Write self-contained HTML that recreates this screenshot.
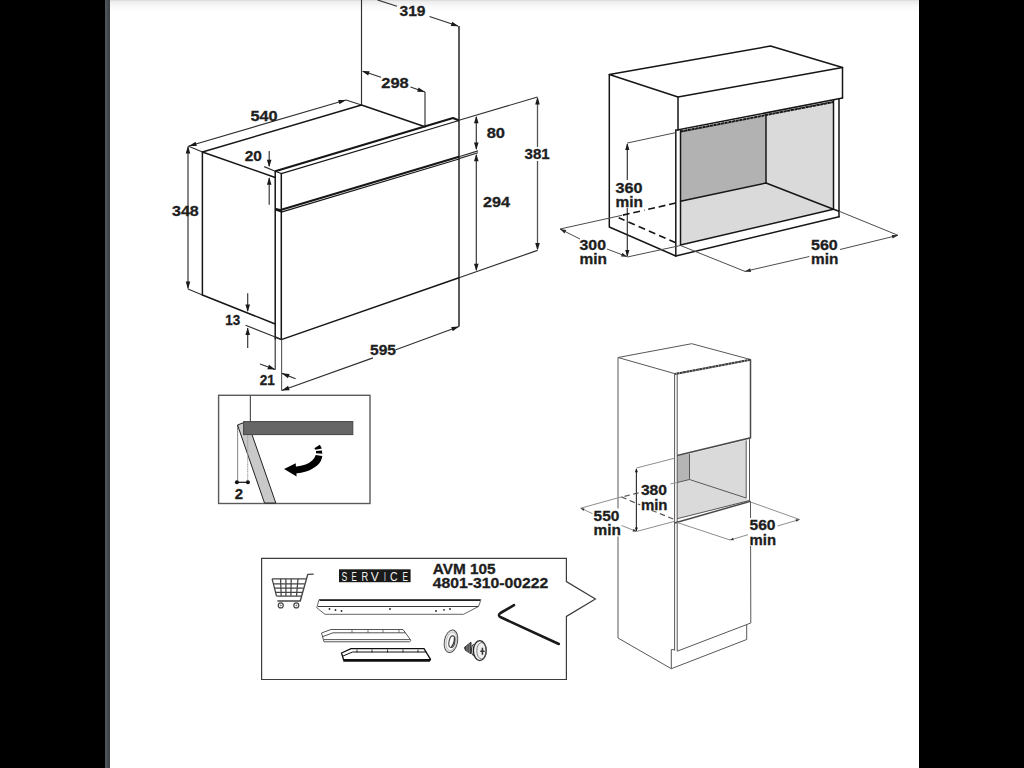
<!DOCTYPE html>
<html><head><meta charset="utf-8"><title>Installation dimensions</title>
<style>
html,body{margin:0;padding:0;background:#fff;overflow:hidden}
body{width:1024px;height:768px;font-family:"Liberation Sans",sans-serif}
svg{display:block;position:absolute;left:0;top:0}
.o{fill:none;stroke:#161616;stroke-width:1.5;stroke-linejoin:round;stroke-linecap:round}
.o1{fill:none;stroke:#161616;stroke-width:1.1;stroke-linejoin:round}
.o2{fill:none;stroke:#161616;stroke-width:1.4}
.o3{fill:none;stroke:#161616;stroke-width:2;stroke-linejoin:round}
.d{fill:none;stroke:#303030;stroke-width:1.15}
.e{fill:none;stroke:#4c4c4c;stroke-width:1}
.e2{fill:none;stroke:#555;stroke-width:1.3}
.d2{fill:none;stroke:#555;stroke-width:1.1}
.d3{fill:none;stroke:#141414;stroke-width:1.6}
.g{fill:none;stroke:#585858;stroke-width:1}
.g2{fill:none;stroke:#4a4a4a;stroke-width:1.5}
.g6{fill:none;stroke:#555;stroke-width:1.25}
.g5{fill:none;stroke:#3a3a3a;stroke-width:2}
.g3{fill:none;stroke:#8e8e8e;stroke-width:1}
.g4{fill:none;stroke:#555;stroke-width:1.2}
.sb{fill:#fff;stroke:#3c3c3c;stroke-width:1.2}
.t{font-family:"Liberation Sans",sans-serif;font-weight:bold;fill:#1e1e1e;stroke:#1e1e1e;stroke-width:0.3}
</style></head>
<body>
<svg width="1024" height="768" viewBox="0 0 1024 768">
<defs>
<linearGradient id="barg" x1="0" x2="1" y1="0" y2="0"><stop offset="0" stop-color="#52585c"/><stop offset="1" stop-color="#3b3f42"/></linearGradient>
<linearGradient id="topg" x1="0" x2="0" y1="0" y2="1"><stop offset="0" stop-color="#d6d6d6"/><stop offset="0.1" stop-color="#ebebeb"/><stop offset="0.5" stop-color="#f8f8f8"/><stop offset="1" stop-color="#ffffff"/></linearGradient>
</defs>
<rect x="0" y="0" width="105" height="768" fill="#000"/>
<rect x="105" y="0" width="5" height="768" fill="url(#barg)"/>
<rect x="919" y="0" width="105" height="768" fill="#000"/>
<rect x="110" y="0" width="809" height="12" fill="url(#topg)"/>
<line class="d" x1="361.50" y1="0.00" x2="361.50" y2="105.00"/>
<line class="o2" x1="459.00" y1="26.00" x2="459.00" y2="326.50"/>
<line class="d" x1="425.00" y1="92.00" x2="425.00" y2="126.50"/>
<line class="d" x1="377.50" y1="0.00" x2="397.00" y2="6.30"/>
<line class="d" x1="429.50" y1="16.50" x2="458.00" y2="26.00"/>
<polygon fill="#1a1a1a" points="458.60,26.20 450.76,25.99 452.22,21.63"/>
<text class="t" x="399.50" y="16.40" font-size="14.5" textLength="26.00" lengthAdjust="spacingAndGlyphs">319</text>
<line class="d" x1="363.00" y1="71.30" x2="381.00" y2="77.30"/>
<line class="d" x1="410.50" y1="87.00" x2="425.00" y2="92.00"/>
<polygon fill="#1a1a1a" points="361.80,71.00 369.64,71.16 368.20,75.53"/>
<polygon fill="#1a1a1a" points="425.00,92.00 417.16,91.81 418.61,87.45"/>
<text class="t" x="381.30" y="87.90" font-size="14.5" textLength="27.50" lengthAdjust="spacingAndGlyphs">298</text>
<line class="d" x1="189.00" y1="146.00" x2="346.00" y2="100.00"/>
<polygon fill="#1a1a1a" points="189.00,146.00 195.55,141.68 196.84,146.10"/>
<polygon fill="#1a1a1a" points="346.00,100.00 339.45,104.31 338.16,99.90"/>
<text class="t" x="250.40" y="120.50" font-size="14.5" textLength="27.20" lengthAdjust="spacingAndGlyphs">540</text>
<line class="d" x1="188.00" y1="146.00" x2="202.50" y2="152.00"/>
<line class="d" x1="346.00" y1="100.00" x2="361.50" y2="105.00"/>
<path class="o" d="M202.40 295.00 L202.40 152.00 L361.50 105.00 L425.00 126.70" />
<path class="o" d="M202.40 152.00 L275.20 177.50" />
<path class="o" d="M202.40 295.00 L275.20 324.00" />
<path class="o" d="M275.20 171.30 L275.20 339.00" />
<path class="o" d="M281.30 173.60 L281.30 339.60" />
<path class="o3" d="M275.20 171.30 L453.00 118.00 L459.00 120.50" />
<path class="o1" d="M275.20 171.30 L281.30 173.60 L459.00 120.50" />
<path class="o3" d="M281.30 209.80 L459.00 156.80" />
<path class="o1" d="M281.30 212.10 L459.00 159.00" />
<polygon fill="#161616" points="275.2,207.8 281.3,209.2 281.3,212.6 275.2,210.6"/>
<path class="o" d="M275.20 337.00 L281.30 339.60 L459.00 277.70" />
<line class="d" x1="275.20" y1="339.00" x2="275.20" y2="369.80"/>
<line class="d2" x1="281.60" y1="339.50" x2="281.60" y2="390.60"/>
<line class="d" x1="188.00" y1="147.00" x2="188.00" y2="288.50"/>
<polygon fill="#1a1a1a" points="188.00,146.00 190.30,153.50 185.70,153.50"/>
<polygon fill="#1a1a1a" points="188.00,289.00 185.70,281.50 190.30,281.50"/>
<line class="d" x1="188.00" y1="289.00" x2="202.40" y2="295.00"/>
<text class="t" x="172.00" y="215.50" font-size="14.5" textLength="26.80" lengthAdjust="spacingAndGlyphs">348</text>
<line class="d" x1="269.20" y1="151.00" x2="269.20" y2="166.00"/>
<polygon fill="#1a1a1a" points="269.20,167.30 266.90,159.80 271.50,159.80"/>
<line class="d" x1="269.20" y1="178.00" x2="269.20" y2="204.80"/>
<polygon fill="#1a1a1a" points="269.20,177.30 271.50,184.80 266.90,184.80"/>
<line class="d" x1="264.20" y1="166.60" x2="275.20" y2="171.20"/>
<text class="t" x="244.70" y="161.10" font-size="14.5" textLength="17.20" lengthAdjust="spacingAndGlyphs">20</text>
<line class="d" x1="247.70" y1="293.30" x2="247.70" y2="311.00"/>
<polygon fill="#1a1a1a" points="247.70,312.00 245.40,304.50 250.00,304.50"/>
<line class="d" x1="247.70" y1="328.00" x2="247.70" y2="348.00"/>
<polygon fill="#1a1a1a" points="247.70,327.50 250.00,335.00 245.40,335.00"/>
<line class="d" x1="245.60" y1="325.30" x2="281.60" y2="339.50"/>
<text class="t" x="225.30" y="325.10" font-size="14.5" textLength="14.90" lengthAdjust="spacingAndGlyphs">13</text>
<line class="d" x1="260.00" y1="364.00" x2="275.00" y2="369.50"/>
<polygon fill="#1a1a1a" points="275.20,369.60 267.37,369.17 268.96,364.85"/>
<line class="d" x1="295.60" y1="378.70" x2="282.00" y2="373.40"/>
<polygon fill="#1a1a1a" points="281.80,373.30 289.62,373.89 287.95,378.17"/>
<text class="t" x="259.70" y="384.90" font-size="14.5" textLength="15.10" lengthAdjust="spacingAndGlyphs">21</text>
<line class="d" x1="281.80" y1="390.50" x2="373.00" y2="357.90"/>
<line class="d" x1="395.80" y1="349.80" x2="459.00" y2="326.50"/>
<polygon fill="#1a1a1a" points="281.80,390.50 288.09,385.81 289.64,390.14"/>
<polygon fill="#1a1a1a" points="459.00,326.50 452.76,331.25 451.17,326.94"/>
<text class="t" x="370.00" y="355.40" font-size="14.5" textLength="26.00" lengthAdjust="spacingAndGlyphs">595</text>
<line class="d" x1="459.00" y1="120.30" x2="537.50" y2="97.00"/>
<line class="d" x1="459.00" y1="277.70" x2="537.50" y2="250.40"/>
<line class="d" x1="459.00" y1="156.80" x2="478.00" y2="150.90"/>
<line class="d" x1="459.00" y1="158.60" x2="478.00" y2="152.70"/>
<line class="d" x1="476.30" y1="117.00" x2="476.30" y2="149.00"/>
<polygon fill="#1a1a1a" points="476.30,115.80 478.60,123.30 474.00,123.30"/>
<polygon fill="#1a1a1a" points="476.30,150.00 474.00,142.50 478.60,142.50"/>
<text class="t" x="486.70" y="137.50" font-size="14.5" textLength="18.30" lengthAdjust="spacingAndGlyphs">80</text>
<line class="d" x1="476.30" y1="155.00" x2="476.30" y2="270.00"/>
<polygon fill="#1a1a1a" points="476.30,153.80 478.60,161.30 474.00,161.30"/>
<polygon fill="#1a1a1a" points="476.30,271.30 474.00,263.80 478.60,263.80"/>
<text class="t" x="483.00" y="206.80" font-size="14.5" textLength="27.00" lengthAdjust="spacingAndGlyphs">294</text>
<line class="e2" x1="537.50" y1="98.00" x2="537.50" y2="147.00"/>
<line class="e2" x1="537.50" y1="161.00" x2="537.50" y2="249.00"/>
<polygon fill="#1a1a1a" points="537.50,97.00 539.80,104.50 535.20,104.50"/>
<polygon fill="#1a1a1a" points="537.50,250.40 535.20,242.90 539.80,242.90"/>
<text class="t" x="524.50" y="158.80" font-size="14.5" textLength="25.20" lengthAdjust="spacingAndGlyphs">381</text>
<polygon fill="#b2b2b2" points="680.5,131 766,115 766,183 680.5,201.2"/>
<polygon fill="#dadada" points="766,115 833.5,101.5 833.5,209.3 766,183"/>
<polygon fill="#dadada" points="680.5,201.2 766,183 833.5,209.3 680.5,245"/>
<path class="o" d="M609.30 74.50 L770.50 46.00 L842.50 67.50 L678.00 97.00 Z" />
<path class="o" d="M678.00 97.00 L678.00 130.00" />
<path class="o" d="M842.50 67.50 L842.50 98.00" />
<path class="o" d="M676.00 130.30 L842.50 98.00" />
<path class="o3" d="M680.50 131.60 L833.50 102.00" />
<path d="M681 131.5 L833 102.1" stroke="#fff" stroke-width="2.4" stroke-dasharray="0.7 2.8" stroke-opacity="0.55" fill="none" transform="skewX(-20) translate(43 0)"/>
<path class="o" d="M609.30 74.50 L609.30 227.00 L675.80 256.00" />
<path class="o" d="M675.80 130.00 L675.80 256.00" />
<path class="o" d="M680.50 130.00 L680.50 245.00" />
<path class="o" d="M833.50 100.50 L833.50 209.30" />
<path class="o" d="M839.00 99.50 L839.00 216.70" />
<path class="o" d="M766.00 115.00 L766.00 183.00" />
<path class="o" d="M680.50 201.20 L766.00 183.00 L833.50 209.30 L839.00 211.20" />
<path class="o" d="M680.50 245.00 L833.50 209.30" />
<path class="o" d="M675.80 256.00 L839.00 216.70" />
<line class="d" x1="627.30" y1="144.00" x2="627.30" y2="180.00"/>
<line class="d" x1="627.30" y1="208.00" x2="627.30" y2="256.00"/>
<polygon fill="#1a1a1a" points="627.30,143.00 629.40,150.00 625.20,150.00"/>
<polygon fill="#1a1a1a" points="627.30,257.00 625.20,250.00 629.40,250.00"/>
<line class="e" x1="627.30" y1="143.00" x2="675.80" y2="132.60"/>
<line class="e" x1="627.30" y1="257.00" x2="680.00" y2="245.60"/>
<rect x="614.5" y="181.5" width="29.5" height="26" fill="#fff"/>
<text class="t" x="615.50" y="192.70" font-size="14.5" textLength="27.00" lengthAdjust="spacingAndGlyphs">360</text>
<text class="t" x="615.50" y="206.90" font-size="14.5" textLength="27.50" lengthAdjust="spacingAndGlyphs">min</text>
<path class="d3" d="M675.8 203 L644 210.3 M640 211.2 L622 215.3" stroke-dasharray="6.9 3.8"/>
<path class="d3" d="M675.8 242.7 L618.7 217.7" stroke-dasharray="7 4.2"/>
<line class="e" x1="560.00" y1="229.00" x2="622.00" y2="215.30"/>
<line class="e" x1="560.00" y1="229.00" x2="580.00" y2="239.00"/>
<line class="e" x1="607.00" y1="249.00" x2="627.00" y2="256.60"/>
<polygon fill="#2a2a2a" points="560.00,229.00 566.22,229.98 564.52,233.38"/>
<polygon fill="#2a2a2a" points="627.30,256.80 621.02,256.42 622.38,252.87"/>
<text class="t" x="579.50" y="249.80" font-size="14.5" textLength="26.50" lengthAdjust="spacingAndGlyphs">300</text>
<text class="t" x="579.50" y="263.90" font-size="14.5" textLength="27.50" lengthAdjust="spacingAndGlyphs">min</text>
<line class="e" x1="680.50" y1="245.50" x2="745.00" y2="271.40"/>
<line class="e" x1="839.00" y1="211.20" x2="898.00" y2="235.30"/>
<line class="e" x1="744.80" y1="271.40" x2="809.40" y2="256.50"/>
<line class="e" x1="840.00" y1="249.50" x2="898.00" y2="235.30"/>
<polygon fill="#2a2a2a" points="744.80,271.40 750.22,268.19 751.07,271.89"/>
<polygon fill="#2a2a2a" points="898.00,235.30 892.62,238.57 891.72,234.88"/>
<text class="t" x="811.00" y="249.90" font-size="14.5" textLength="26.80" lengthAdjust="spacingAndGlyphs">560</text>
<text class="t" x="811.00" y="264.10" font-size="14.5" textLength="27.30" lengthAdjust="spacingAndGlyphs">min</text>
<polygon fill="#b5b5b5" points="677,456 689.5,453.7 689.5,479.5 677,482.5"/>
<polygon fill="#dadada" points="689.5,453.7 746.2,440.3 746.2,498 689.5,479.5"/>
<polygon fill="#dadada" points="677,482.5 689.5,479.5 746.2,498 749.5,501 677,518.7"/>
<path class="g" d="M618.00 357.50 L691.70 343.70 L750.50 359.50 L675.00 373.70 Z" />
<path class="g5" d="M675.00 373.90 L750.50 359.70" />
<path d="M676 373.7 L750 359.8" stroke="#fff" stroke-width="2.2" stroke-dasharray="0.7 2.6" stroke-opacity="0.6" fill="none"/>
<path class="g" d="M618.00 357.50 L618.00 638.00 L671.30 668.70 L746.70 639.50 L746.70 625.00" />
<path class="g" d="M671.30 668.70 L671.30 649.50 L674.50 649.80" />
<path class="g" d="M674.60 373.70 L674.60 650.50" />
<path class="g" d="M677.20 374.00 L677.20 651.20" />
<path class="g2" d="M750.50 359.50 L750.50 437.80 L677.20 455.60" />
<path class="g" d="M677.20 651.20 L750.80 623.00 L750.50 501.30" />
<path class="g2" d="M674.60 523.00 L750.50 501.30" />
<path class="g" d="M677.20 518.70 L749.50 500.50" />
<path class="g" d="M746.20 440.30 L746.20 498.00" />
<path class="g" d="M749.50 438.50 L749.50 501.00" />
<path class="g" d="M689.50 453.70 L689.50 479.50" />
<path class="g" d="M677.20 482.50 L689.50 479.50 L746.20 498.00" />
<rect x="639.5" y="483" width="29.5" height="28" fill="#fff"/>
<rect x="592" y="508.5" width="30.5" height="28" fill="#fff"/>
<rect x="748.3" y="518" width="29" height="28" fill="#fff"/>
<line class="d" x1="636.40" y1="469.00" x2="636.40" y2="531.00"/>
<polygon fill="#1a1a1a" points="636.40,468.30 637.90,472.30 634.90,472.30"/>
<polygon fill="#1a1a1a" points="636.40,531.60 634.90,527.60 637.90,527.60"/>
<line class="g3" x1="636.40" y1="468.00" x2="674.60" y2="458.20"/>
<line class="g3" x1="636.40" y1="531.50" x2="674.60" y2="521.30"/>
<line class="g3" x1="670.50" y1="483.90" x2="676.50" y2="482.60"/>
<path class="g4" d="M621.4 496.9 L640.3 505" stroke-dasharray="5.5 3.5"/>
<path class="g4" d="M651.5 510.2 L674.6 519.6" stroke-dasharray="5.5 3.5"/>
<path class="g4" d="M624.5 496.3 L639.5 492.6" stroke-dasharray="5.5 3.5"/>
<line class="g3" x1="580.70" y1="508.20" x2="621.40" y2="496.90"/>
<line class="g3" x1="580.70" y1="508.20" x2="592.40" y2="513.60"/>
<line class="g3" x1="621.60" y1="525.50" x2="636.40" y2="531.40"/>
<polygon fill="#333" points="580.70,508.20 584.56,508.43 583.39,510.98"/>
<polygon fill="#333" points="636.40,531.40 632.54,531.38 633.57,528.77"/>
<line class="g3" x1="677.20" y1="522.50" x2="730.00" y2="540.00"/>
<line class="g3" x1="750.50" y1="502.00" x2="799.50" y2="519.50"/>
<line class="g3" x1="730.00" y1="540.00" x2="748.00" y2="534.70"/>
<line class="g3" x1="777.50" y1="526.00" x2="799.50" y2="519.50"/>
<polygon fill="#333" points="730.00,540.00 733.06,537.64 733.85,540.33"/>
<polygon fill="#333" points="799.50,519.50 796.45,521.87 795.65,519.19"/>
<text class="t" x="640.90" y="495.00" font-size="14.5" textLength="26.10" lengthAdjust="spacingAndGlyphs">380</text>
<text class="t" x="640.90" y="509.50" font-size="14.5" textLength="26.60" lengthAdjust="spacingAndGlyphs">min</text>
<text class="t" x="593.60" y="520.60" font-size="14.5" textLength="25.80" lengthAdjust="spacingAndGlyphs">550</text>
<text class="t" x="593.60" y="535.00" font-size="14.5" textLength="27.40" lengthAdjust="spacingAndGlyphs">min</text>
<text class="t" x="749.50" y="530.00" font-size="14.5" textLength="26.00" lengthAdjust="spacingAndGlyphs">560</text>
<text class="t" x="749.50" y="544.60" font-size="14.5" textLength="26.50" lengthAdjust="spacingAndGlyphs">min</text>
<rect x="218.6" y="395.3" width="151.4" height="108.2" fill="#fff" stroke="#5a5a5a" stroke-width="1.4"/>
<line class="g6" x1="250.40" y1="395.50" x2="250.40" y2="421.50"/>
<polygon fill="#c9c9c9" stroke="#222" stroke-width="1" points="237.5,425 244,422.5 252,434.6 275.8,503 264.5,503"/>
<rect x="243.6" y="421.6" width="109.2" height="13" fill="#666" stroke="#444" stroke-width="1"/>
<path d="M237.6 425.5 V481.5" stroke="#222" stroke-width="1.1" stroke-dasharray="1.1 0.9" fill="none"/>
<path d="M247.7 435 V481.5" stroke="#a2a2a2" stroke-width="1.1" stroke-dasharray="1.2 0.5" fill="none"/>
<path d="M237 482.3 H248" stroke="#111" stroke-width="1.2"/><circle cx="236.9" cy="482.3" r="2" fill="#111"/><circle cx="247.9" cy="482.3" r="2" fill="#111"/>
<text class="t" x="234.70" y="498.80" font-size="14.5" textLength="8.30" lengthAdjust="spacingAndGlyphs">2</text>
<path fill="#000" d="M322.3 456 Q321.3 466.2 306 471.6 Q301.5 473 295.6 473.5 L295.2 466.7 Q307.5 465 312.2 460.4 Q315 457.6 315.7 455 Z"/>
<polygon fill="#000" points="284.1,469.1 295.7,463.2 296.6,476.6"/>
<polygon fill="#000" points="314.4,448.2 319.8,444.7 321.9,448.5 315.4,449.8"/>
<polygon fill="#000" points="316,451 321.9,450.4 322.3,453.8 316,453.2"/>
<path class="sb" d="M261.60 558.30 L566.40 558.30 L566.40 581.60 L595.40 598.90 L566.40 616.40 L566.40 679.50 L261.60 679.50 Z" />
<rect x="339" y="569.3" width="71.6" height="12.9" fill="#1a1a1a"/>
<g fill="#f2f2f2" font-family="Liberation Sans"><text x="341.5" y="581.3" font-size="13.2" textLength="5.8" lengthAdjust="spacingAndGlyphs">S</text><text x="351.5" y="581.3" font-size="13.2" textLength="5.3" lengthAdjust="spacingAndGlyphs">E</text><text x="361.5" y="581.3" font-size="13.2" textLength="6.7" lengthAdjust="spacingAndGlyphs">R</text><text x="370.8" y="581.3" font-size="13.2" textLength="8.0" lengthAdjust="spacingAndGlyphs">V</text><text x="383.9" y="581.3" font-size="13.2" textLength="1.8" lengthAdjust="spacingAndGlyphs">I</text><text x="390.0" y="581.3" font-size="13.2" textLength="7.6" lengthAdjust="spacingAndGlyphs">C</text><text x="402.5" y="581.3" font-size="13.2" textLength="5.5" lengthAdjust="spacingAndGlyphs">E</text></g>
<text class="t" x="432.70" y="573.80" font-size="14.5" textLength="62.90" lengthAdjust="spacingAndGlyphs">AVM 105</text>
<text class="t" x="432.70" y="588.40" font-size="14.5" textLength="115.60" lengthAdjust="spacingAndGlyphs">4801-310-00222</text>
<g stroke="#454545" stroke-width="1.25" fill="none" stroke-linejoin="round"><path d="M272.1 578.8 H305.9 M273.4 583.8 H304.6 M274.5 588.2 H303.4 M275.5 592.3 H302.3 M276.5 596 H301.5"/><path d="M272.1 578.8 L276.5 596 M280.6 578.8 L281.2 596 M285.9 578.8 V596 M291.2 578.8 L290.9 596 M298 578.8 L296.5 596"/><path d="M313.7 574.1 L307.75 574.4 L300.25 601 H277.4" stroke-width="1.4"/><circle cx="280.75" cy="605.4" r="2.5" stroke-width="1.2"/><circle cx="296.3" cy="605.4" r="2.5" stroke-width="1.2"/><circle cx="280.75" cy="605.4" r="0.5" stroke-width="0.8"/><circle cx="296.3" cy="605.4" r="0.5" stroke-width="0.8"/></g>
<g stroke="#3a3a3a" stroke-width="1" fill="none"><path d="M319 599.6 H481 L478.5 606.5 L463.5 614.3 H325 L316.8 607.8 Z" stroke="#666" stroke-width="1"/><path d="M319.5 600.3 H480" stroke="#222" stroke-width="1.5"/><path d="M318 606.5 H478.5"/></g>
<g fill="#222"><circle cx="329.5" cy="609" r="0.9"/><circle cx="335.5" cy="610" r="0.9"/><circle cx="341.5" cy="611" r="0.9"/><circle cx="390" cy="609" r="0.9"/><circle cx="436" cy="611" r="0.9"/><circle cx="444" cy="609.8" r="0.9"/><circle cx="450" cy="609" r="0.9"/></g>
<g stroke="#555" stroke-width="1" fill="none"><path d="M321.5 633 L331 629.5 H403 L411 640.5 L409.5 641.8 H324 Z"/><path d="M323 636.5 L333 632.8 H405.5 M324 639.6 H410"/><path d="M352 630 V633 M368 630 V633 M383 630 V633 M399 630 V633" stroke-width="0.8"/></g>
<g stroke="#111" stroke-width="1.3" fill="none"><path d="M341.5 653 L351 648.6 H424 L430.5 659.3 L429.5 661 H344 Z"/><path d="M343 656 L352.5 652 H426.5" stroke-width="1"/><path d="M344 660 H430" stroke-width="2.2"/><path d="M357 649.5 V652.5 M372 649.5 V652.5 M387.5 649.5 V652.5 M403 649.5 V652.5 M418 649.5 V652.5" stroke-width="0.8"/></g>
<g transform="rotate(11 451 641.3)" fill="none"><ellipse cx="451" cy="641.3" rx="6.6" ry="11.4" fill="#e4e4e4" stroke="#555" stroke-width="1"/><ellipse cx="451.4" cy="641.3" rx="5" ry="9.4" fill="#f6f6f6" stroke="#aaa" stroke-width="0.6"/><ellipse cx="452" cy="641.5" rx="2.9" ry="5.9" fill="#fff" stroke="#444" stroke-width="1.1"/><path d="M453.5 637 Q455 641.5 452.5 646.8" stroke="#333" stroke-width="1.2"/></g>
<g stroke="#333" stroke-width="1" fill="none"><path d="M464.4 647.4 L471 642.2 V653.8 L465.5 650.5 Z" fill="#444" stroke="#333"/><path d="M467 645.5 V652 M469.2 644 V653" stroke="#bbb" stroke-width="0.6"/><ellipse cx="473.6" cy="650" rx="2.1" ry="5.6" fill="#ddd" stroke="#333"/><ellipse cx="476" cy="650.3" rx="1.6" ry="4.2" fill="#777" stroke="#333" stroke-width="0.8"/><ellipse cx="479.8" cy="650.6" rx="6.4" ry="10" fill="#f0f0f0" stroke="#2a2a2a" stroke-width="1.3"/><ellipse cx="481.6" cy="650.8" rx="4.8" ry="8.2" stroke="#666" stroke-width="0.8"/><path d="M482.4 647.8 V654.8 M480.3 651.3 H484.6" stroke="#333" stroke-width="1.5"/></g>
<path d="M514 605.2 L500.5 613 Q497.3 615.3 500.8 617.3 L558.8 644" fill="none" stroke="#1a1a1a" stroke-width="2.6" stroke-linecap="round" stroke-linejoin="round"/>
</svg>
</body></html>
